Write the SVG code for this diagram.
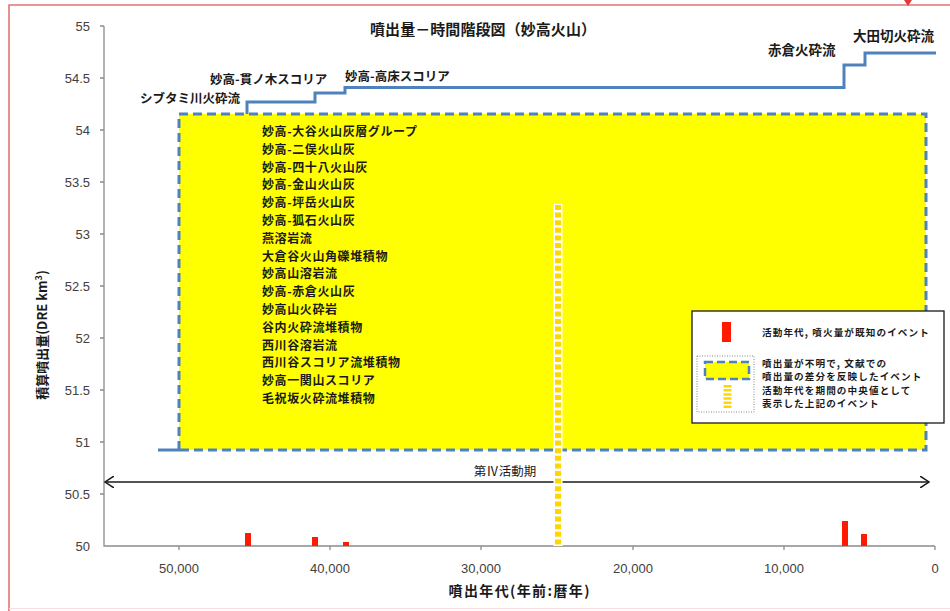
<svg xmlns="http://www.w3.org/2000/svg" width="950" height="611" viewBox="0 0 950 611">
<defs>
<style>
.tick{font-family:"Liberation Sans","Noto Sans",sans-serif;font-size:13px;fill:#404040}
.jp{font-family:"Noto Sans CJK JP","Noto Sans",sans-serif;fill:#1a1a1a}
.lbl{font-size:12.5px;font-weight:bold}
.lst{font-size:12px;font-weight:bold;letter-spacing:0.6px}
.lg{font-size:9.6px;font-weight:bold;letter-spacing:1.1px}
.ax{stroke:#8c8c8c;stroke-width:1.3;fill:none}
.bar{fill:#ff1a00}
.blue{stroke:#4f81bd;stroke-width:3;fill:none}
</style>
<marker id="chev" viewBox="0 0 10 12" refX="9" refY="6" markerWidth="10" markerHeight="12" markerUnits="userSpaceOnUse" orient="auto-start-reverse">
<path d="M0,0 L9,6 L0,12" fill="none" stroke="#1a1a1a" stroke-width="1.5"/>
</marker>
</defs>
<rect x="0" y="0" width="950" height="611" fill="#ffffff"/>
<g id="frame">
<path d="M9,611 V5 H950" fill="none" stroke="#e57373" stroke-width="1.6"/>
<path d="M9,608.5 H950" fill="none" stroke="#f8dede" stroke-width="1.2"/>
<path d="M904,0 L912,0 L908,6 Z" fill="#e53935"/>
</g>
<g id="title"><text class="jp" x="483" y="35" text-anchor="middle" font-size="15" font-weight="bold" textLength="226" lengthAdjust="spacing">噴出量－時間階段図（妙高火山）</text></g>
<g id="yellow-period">
<rect x="179" y="114" width="747" height="336" fill="#ffff00"/>
<path d="M179,450 V114 H926 V450 H179" fill="none" stroke="#4f81bd" stroke-width="3" stroke-dasharray="9 5"/>
</g>
<g id="list" class="jp lst">
<text x="262" y="136">妙高-大谷火山灰層グループ</text>
<text x="262" y="153.8">妙高-二俣火山灰</text>
<text x="262" y="171.6">妙高-四十八火山灰</text>
<text x="262" y="189.4">妙高-金山火山灰</text>
<text x="262" y="207.2">妙高-坪岳火山灰</text>
<text x="262" y="225">妙高-狐石火山灰</text>
<text x="262" y="242.8">燕溶岩流</text>
<text x="262" y="260.6">大倉谷火山角礫堆積物</text>
<text x="262" y="278.4">妙高山溶岩流</text>
<text x="262" y="296.2">妙高-赤倉火山灰</text>
<text x="262" y="314">妙高山火砕岩</text>
<text x="262" y="331.8">谷内火砕流堆積物</text>
<text x="262" y="349.6">西川谷溶岩流</text>
<text x="262" y="367.4">西川谷スコリア流堆積物</text>
<text x="262" y="385.2">妙高一関山スコリア</text>
<text x="262" y="403">毛祝坂火砕流堆積物</text>
</g>
<g id="axes">
<path class="ax" d="M104,26 V546 H935"/>
<path class="ax" d="M100,26H104M100,78H104M100,130H104M100,182H104M100,234H104M100,286H104M100,338H104M100,390H104M100,442H104M100,494H104M179,546V550M330,546V550M481,546V550M633,546V550M784,546V550M935,546V550"/>
<g class="tick" text-anchor="end">
<text x="90" y="31">55</text><text x="90" y="83">54.5</text><text x="90" y="135">54</text><text x="90" y="187">53.5</text><text x="90" y="239">53</text><text x="90" y="291">52.5</text><text x="90" y="343">52</text><text x="90" y="395">51.5</text><text x="90" y="447">51</text><text x="90" y="499">50.5</text><text x="90" y="551">50</text>
</g>
<g class="tick" text-anchor="middle">
<text x="179" y="573">50,000</text><text x="330" y="573">40,000</text><text x="481" y="573">30,000</text><text x="633" y="573">20,000</text><text x="784" y="573">10,000</text><text x="935" y="573">0</text>
</g>
<text class="jp" x="519" y="596" text-anchor="middle" font-size="14" font-weight="bold" textLength="141" lengthAdjust="spacing">噴出年代(年前:暦年)</text>
<text class="jp" transform="translate(47,335) rotate(-90)" text-anchor="middle" font-size="13" font-weight="bold">積算噴出量(DRE km<tspan font-size="9" dy="-5">3</tspan><tspan dy="5">)</tspan></text>
</g>
<g id="connectors">
<path class="blue" d="M158,450 H180"/>
<path class="blue" d="M247,114 V102 H315 V93 H345 V87.5 H844 V65 H865 V53 H936"/>
<path d="M105,482 H929" fill="none" stroke="#1a1a1a" stroke-width="1.4" marker-start="url(#chev)" marker-end="url(#chev)"/>
</g>
<g id="step-labels" class="jp lbl">
<text x="140" y="103">シブタミ川火砕流</text>
<text x="210" y="84">妙高-貫ノ木スコリア</text>
<text x="345" y="81">妙高-高床スコリア</text>
<text x="768" y="55" font-size="13.5">赤倉火砕流</text>
<text x="853" y="41" font-size="13.5">大田切火砕流</text>
</g>
<g id="period-label"><text class="jp" x="505" y="476" text-anchor="middle" font-size="12.5">第Ⅳ活動期</text></g>
<g id="events">
<rect class="bar" x="245" y="533" width="6" height="13"/>
<rect class="bar" x="312" y="537" width="6" height="9"/>
<rect class="bar" x="343" y="542" width="6" height="4"/>
<rect class="bar" x="842" y="521" width="6" height="25"/>
<rect class="bar" x="861" y="534" width="6" height="12"/>
</g>
<g id="midpoint">
<path d="M558,204 V546" stroke="#ffffff" stroke-width="9" fill="none"/>
<path d="M558,205 V546" stroke="#ffd700" stroke-width="6" stroke-dasharray="5 2.6" fill="none"/>
</g>
<g id="legend">
<rect x="692" y="311" width="252" height="112" fill="#ffffff" stroke="#1a1a1a" stroke-width="1.3"/>
<rect x="722" y="322" width="9" height="20" fill="#ff1a00"/>
<text class="jp lg" x="762" y="336">活動年代, 噴火量が既知のイベント</text>
<rect x="697" y="356" width="57" height="56" fill="none" stroke="#888" stroke-width="1" stroke-dasharray="1 1.5"/>
<rect x="705" y="362" width="44" height="17" fill="#ffff00" stroke="#4f81bd" stroke-width="2.5" stroke-dasharray="8 4"/>
<path d="M727.5,385 V408" stroke="#ffd700" stroke-width="8" stroke-dasharray="2.5 1.6" fill="none"/>
<g class="jp lg">
<text x="762" y="367">噴出量が不明で, 文献での</text>
<text x="762" y="380.3">噴出量の差分を反映したイベント</text>
<text x="762" y="393.6">活動年代を期間の中央値として</text>
<text x="762" y="406.9">表示した上記のイベント</text>
</g>
</g>
</svg>
